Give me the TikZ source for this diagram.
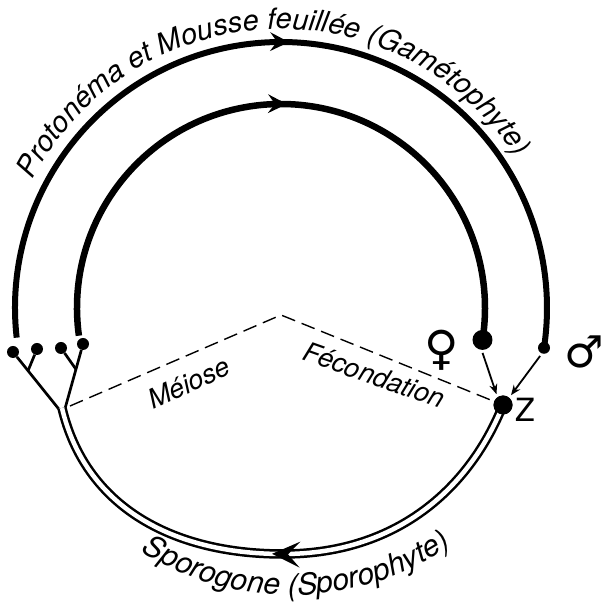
\documentclass[tikz,border=0pt]{standalone}
\usepackage{fontspec}
\setmainfont{TeX Gyre Heros}
\newfontfamily\symfont{DejaVu Sans}
\usetikzlibrary{arrows.meta,decorations.markings,decorations.text,calc}
\begin{document}
\begin{tikzpicture}[x=1pt,y=1pt,
  arcline/.style={line width=6pt},
  branch/.style={line width=2.7pt},
  blob/.style={circle,fill=black,inner sep=0pt,minimum size=#1},
  dashline/.style={line width=1.4pt,dash pattern=on 14pt off 7pt},
  smallarrow/.style={line width=1.8pt,-{Stealth[length=10pt,width=8pt]},shorten <=3pt,shorten >=3pt},
  midarrow/.style={postaction={decorate},decoration={markings,mark=at position #1 with {\fill (2pt,0) -- (-17pt,9.5pt) -- (-10pt,0) -- (-17pt,-9.5pt) -- cycle;}}},
  lbl/.style={font=\itshape\fontsize{27}{30}\selectfont,inner sep=0pt},
  symb/.style={font=\symfont\fontsize{#1}{#1}\selectfont,inner sep=0pt}
]
\useasboundingbox (0,0) rectangle (605,612);
\coordinate (C) at (281,304);
\coordinate (T) at (292,300);

% top arcs (gametophyte)
\draw[arcline,midarrow=0.501] ($(C)+(186.4:266)$) arc[start angle=186.4,end angle=-8.6,radius=266];
\draw[arcline,line width=6.5pt,midarrow=0.5025] ($(C)+(187.8:204)$) arc[start angle=187.8,end angle=-9,radius=204];

% curved label along outer arc
\path[decorate,decoration={text along path,text align=center,
  text={|\itshape\fontsize{29}{31}\selectfont|Protonéma et Mousse feuillée (Gamétophyte)}}]
  ($(C)+(162:279)$) arc[start angle=162,end angle=23.2,radius=279];

% dots
\node[blob=12pt] (mdot) at ($(C)+(-8.6:266)$) {};
\node[blob=20pt] (fdot) at ($(C)+(-9:204)$) {};
\node[blob=19pt] (zdot) at (503,207) {};
\node[blob=12pt] (d1) at (13,260) {};
\node[blob=12pt] (d2) at (37,263) {};
\node[blob=12pt] (d3) at (61,264) {};
\node[blob=12pt] (d4) at (83,268) {};

% sporophyte double line
\coordinate (bot) at (283,58);
\coordinate (jL) at (62,204);
\coordinate (jA) at (58.6,203.2);
\coordinate (jD) at (65.4,204.8);
\draw[line width=2.5pt,double,double distance=4.5pt]
  (zdot.center) .. controls (471,127) and (400,58) .. (bot)
  .. controls (170,58) and (85,107) .. (jL);
\path[decorate,decoration={markings,mark=at position 11pt with {\fill (0,0) -- (-28pt,13pt) -- (-16pt,0) -- (-28pt,-13pt) -- cycle;}}]
  (bot) .. controls (170,58) and (85,107) .. (jL);
\node[blob=19pt] at (zdot) {};

% branches
\draw[branch] (d1) -- (jA);
\draw[branch] (d2) -- ($(d1)!0.33!(jA)$);
\draw[branch] (d4) -- (jD);
\draw[branch] (d3) -- ($(d4)!0.4!(jD)$);

% curved label along bottom
\path[decorate,decoration={text along path,text align=center,
  text={|\itshape\fontsize{30}{32}\selectfont|Sporogone (Sporophyte)}}]
  ($(T)+(226:283)$) arc[start angle=226,end angle=316,radius=283];

% dashed lines
\coordinate (apex) at (281,297);
\coordinate (dashL) at (70,206);
\draw[dashline] (dashL) -- (apex) -- (zdot);

% labels
\node[lbl,rotate=24.5] (meiose) at (189,229) {Méiose};
\node[lbl,rotate=-19.5] (fec) at (374,237) {Fécondation};
\node[font=\fontsize{32}{34}\selectfont,inner sep=0pt] (zlab) at (525,202) {Z};

% fertilisation arrows
\draw[smallarrow] (fdot.-95) -- (zdot.125);
\draw[smallarrow] (mdot.-110) -- (zdot.50);

% sex symbols
\node[symb=47,anchor=south] (fem) at (442,241) {♀};
\node[symb=44,anchor=south east] (male) at (604,244) {♂};
\end{tikzpicture}
\end{document}
